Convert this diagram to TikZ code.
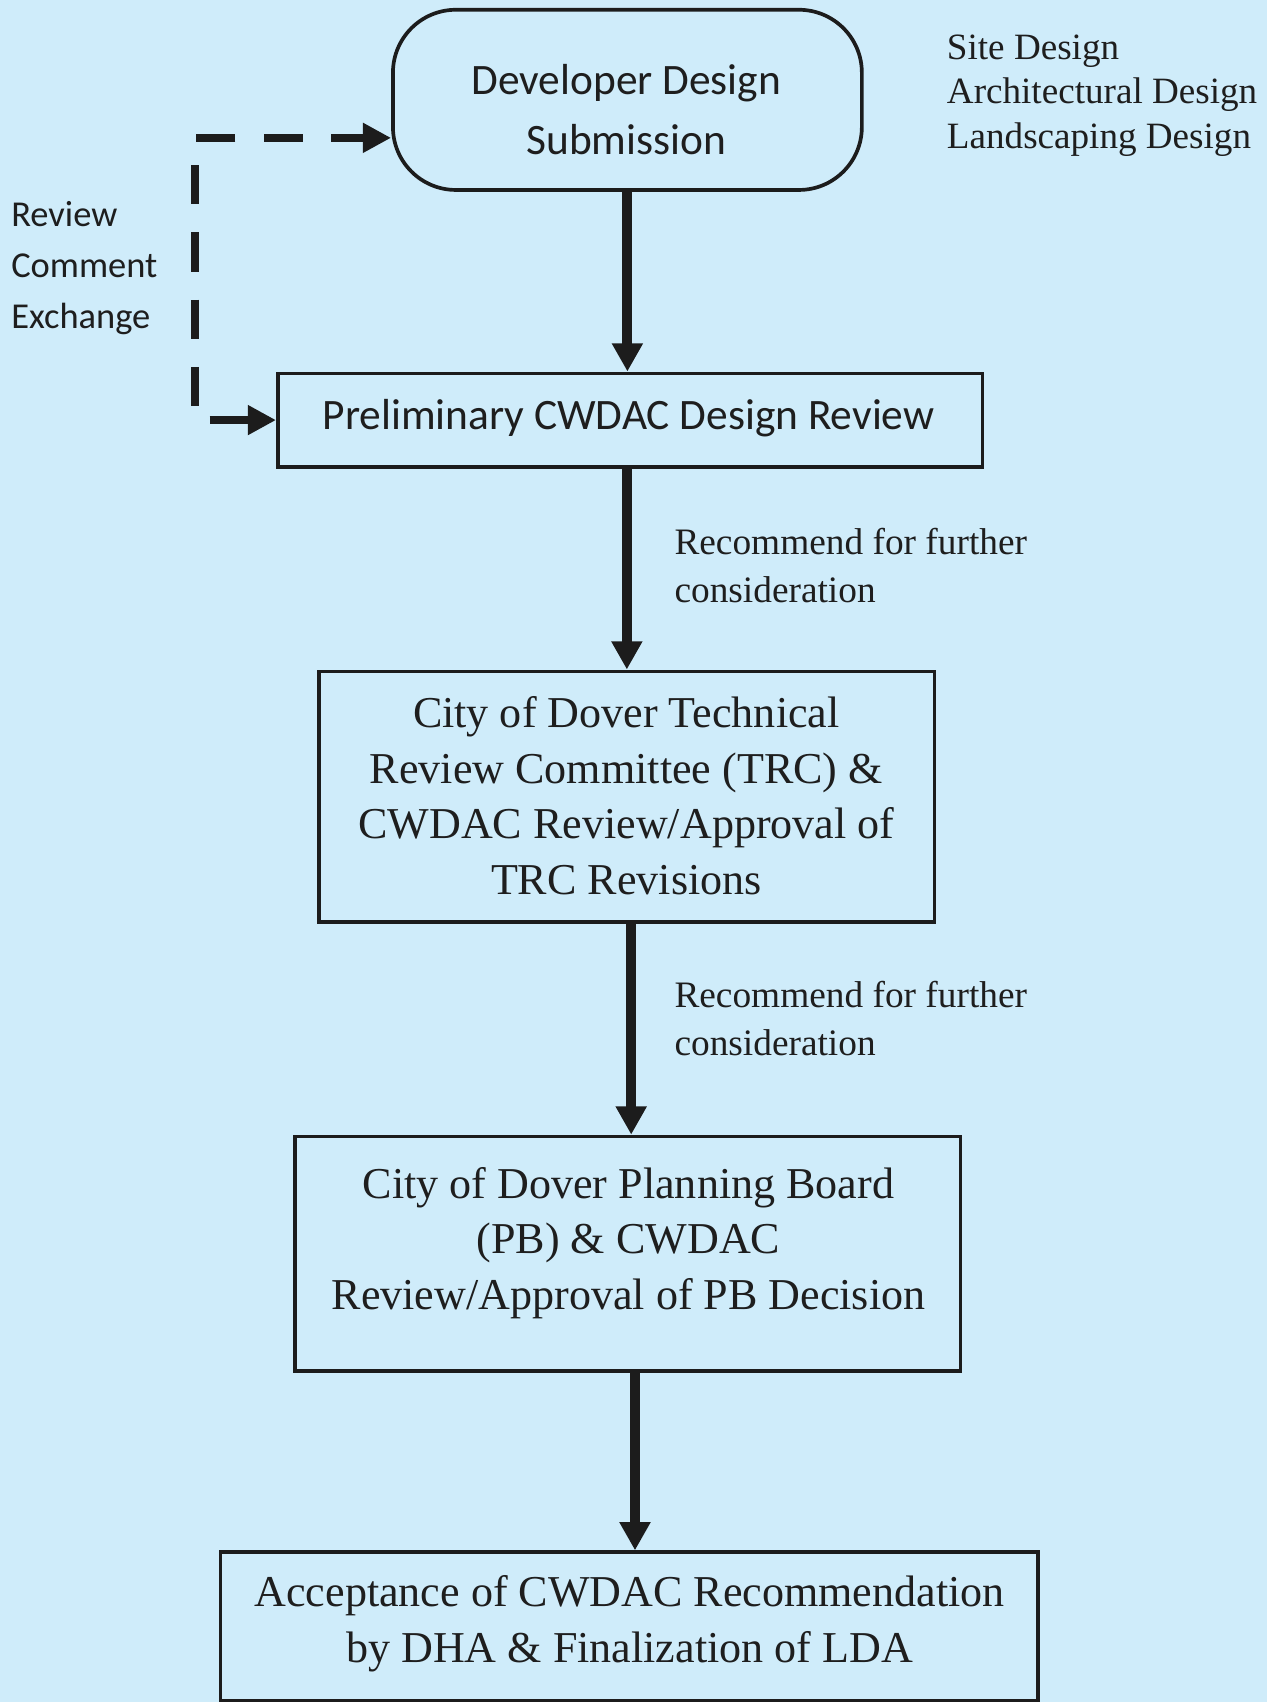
\documentclass[tikz,border=0pt]{standalone}
\usepackage{fontspec}
\setmainfont{Liberation Serif}
\newfontfamily\calfont{Carlito}
\usetikzlibrary{arrows.meta,calc}
\definecolor{bgblue}{RGB}{207,236,250}
\definecolor{linecol}{RGB}{28,28,28}
\definecolor{txtcol}{RGB}{30,30,30}
\begin{document}
\begin{tikzpicture}[x=0.5pt,y=-0.5pt,
  box/.style={draw=linecol, line width=1.7pt, inner sep=0pt, fill=none},
  termbox/.style={box, rounded corners=29pt},
  txt/.style={text=txtcol, inner sep=0pt, align=center},
  arr/.style={draw=linecol, line width=4.6pt, -{Triangle[width=13.5pt,length=13pt]}},
  darr/.style={draw=linecol, line width=3.7pt, dash pattern=on 18pt off 13pt, dash phase=2.5pt,
    {Triangle[width=13pt,length=13pt]}-{Triangle[width=13pt,length=13pt]}}
]
\fill[bgblue] (0,0) rectangle (1167,1568);
\useasboundingbox (0,0) rectangle (1167,1568);
\clip (0,0) rectangle (1167,1568);

% boxes
\node[termbox, minimum width=216pt, minimum height=83pt] (b1) at (578,92) {};
\node[box, minimum width=324.5pt, minimum height=43pt] (b2) at (580.5,387) {};
\node[box, minimum width=283.5pt, minimum height=115.5pt] (b3) at (577.5,734) {};
\node[box, minimum width=306.5pt, minimum height=108pt] (b4) at (578.5,1155) {};
\node[box, minimum width=376.5pt, minimum height=68.5pt] (b5) at (579.5,1498.5) {};

% box texts
\node[txt, font=\calfont\fontsize{20}{28}\selectfont] (t1) at (577,101) {Developer Design\\Submission};
\node[txt, font=\calfont\fontsize{20}{24}\selectfont] (t2) at (579,385) {Preliminary CWDAC Design Review};
\node[txt, font=\fontsize{20.3}{25.6}\selectfont] (t3) at (577,733) {City of Dover Technical\\Review Committee (TRC) \&\\CWDAC Review/Approval of\\TRC Revisions};
\node[txt, font=\fontsize{20.3}{25.6}\selectfont] (t4) at (579,1145) {City of Dover Planning Board\\(PB) \& CWDAC\\Review/Approval of PB Decision};
\node[txt, font=\fontsize{20.3}{25.6}\selectfont] (t5) at (580,1496) {Acceptance of CWDAC Recommendation\\by DHA \& Finalization of LDA};

% side labels
\node[txt, align=left, anchor=west, font=\fontsize{17.1}{20.5}\selectfont] (site) at (872,88) {Site Design\\Architectural Design\\Landscaping Design};
\node[txt, align=left, anchor=west, font=\calfont\fontsize{16.8}{23.3}\selectfont] (rce) at (10,247) {Review\\Comment\\Exchange};
\node[txt, align=left, anchor=west, font=\fontsize{17.2}{22}\selectfont] (rec1) at (621,521) {Recommend for further\\consideration};
\node[txt, align=left, anchor=west, font=\fontsize{17.2}{22}\selectfont] (rec2) at (621,938) {Recommend for further\\consideration};

% connectors
\draw[arr] (b1.south) -- (b1.south |- b2.north);
\draw[arr] (b3.north |- b2.south) -- (b3.north);
\draw[arr] ([xshift=2pt]b3.south) -- ([xshift=2pt]b3.south |- b4.north);
\draw[arr] ([xshift=3.25pt]b4.south) -- ([xshift=3.25pt]b4.south |- b5.north);

\coordinate (dk) at (180,250);
\draw[darr] ([yshift=-17.5pt]b1.west) -| (dk) |- (b2.west);
\end{tikzpicture}
\end{document}
